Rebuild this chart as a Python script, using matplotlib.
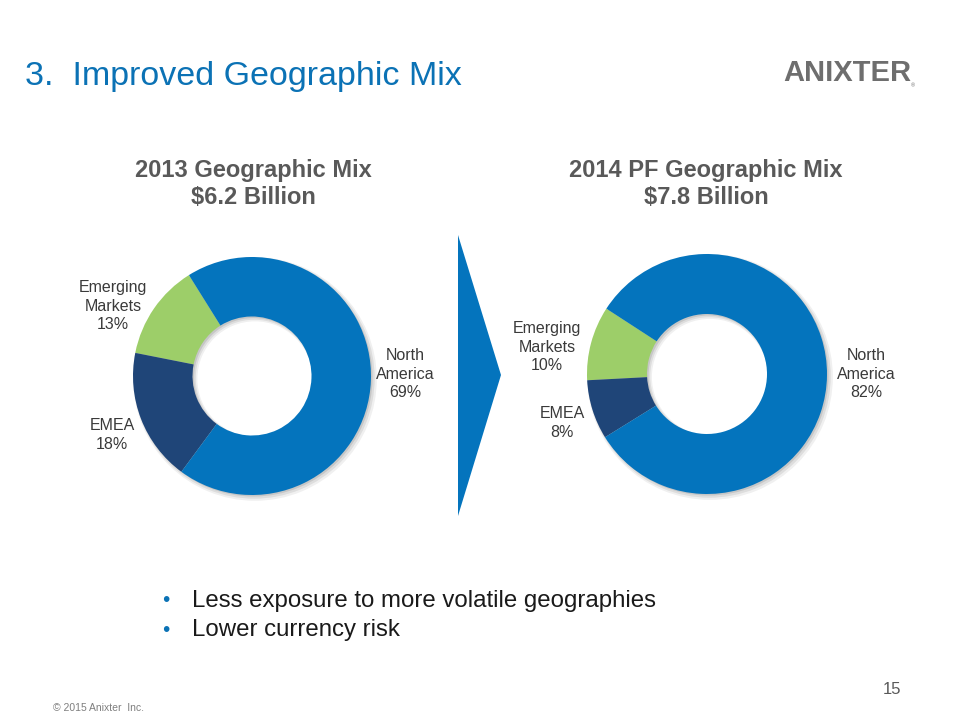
import matplotlib.pyplot as plt
from matplotlib.patches import Polygon

plt.rcParams['font.family'] = ['Liberation Sans', 'DejaVu Sans']

regions = ['Emerging\nMarkets', 'EMEA', 'North\nAmerica']
share_2013 = [13, 18, 69]
share_2014 = [10, 8, 82]
colors = ['#9DCE69', '#1F4578', '#0474BD']

W, H = 960, 720
fig = plt.figure(figsize=(9.6, 7.2), dpi=100)
fig.patch.set_facecolor('white')

blue = '#0B72B5'
gray_txt = '#595959'
lbl_txt = '#3A3A3A'


def px(x, y):
    # pixel coords (from top-left) -> figure fraction
    return x / W, 1 - y / H


def donut(cx, cy, r, values, start, label_pos):
    pad = 1.12
    side = 2 * r * pad
    ax = fig.add_axes([(cx - side / 2) / W, (H - cy - side / 2) / H, side / W, side / H])
    # soft shadow
    for k, a in enumerate([0.06, 0.08, 0.10]):
        off = 0.025 - k * 0.006
        ax.pie([1], radius=1.0 + 0.012 * (2 - k), center=(off, -off), colors=['#000000'],
               wedgeprops=dict(width=0.5 + 0.02 * (2 - k), alpha=a, linewidth=0))
    ax.pie(values, radius=1.0, startangle=start, counterclock=True, colors=colors,
           wedgeprops=dict(width=0.5, linewidth=0))
    ax.set_xlim(-pad, pad)
    ax.set_ylim(-pad, pad)
    ax.set_aspect('equal')
    ax.axis('off')
    for name, v, (lx, ly) in zip(regions, values, label_pos):
        fx, fy = px(lx, ly)
        fig.text(fx, fy, f'{name}\n{v}%', ha='center', va='center', fontsize=11.5,
                 color=lbl_txt, linespacing=1.3)


donut(252, 376, 119, share_2013, 122, [(113, 306), (112, 435), (405, 374)])
donut(707, 374, 120, share_2014, 147, [(547, 347), (562, 423), (866, 374)])

# chart titles
fig.text(*px(253, 184), '2013 Geographic Mix\n$6.2 Billion', ha='center', va='center',
         fontsize=17, fontweight='bold', color=gray_txt, linespacing=1.2)
fig.text(*px(706, 184), '2014 PF Geographic Mix\n$7.8 Billion', ha='center', va='center',
         fontsize=17, fontweight='bold', color=gray_txt, linespacing=1.2)

# arrow between the charts
arrow = Polygon([px(458, 235), px(501, 375), px(458, 516)], closed=True,
                transform=fig.transFigure, facecolor='#0474BD', edgecolor='none')
fig.patches.append(arrow)

# slide title
fig.text(*px(25, 76), '3.  Improved Geographic Mix', ha='left', va='center',
         fontsize=24.5, color=blue)

# logo
fig.text(*px(783, 73), 'ANIXTER', ha='left', va='center', fontsize=21,
         fontweight='bold', color='#6E6E6E')
fig.text(*px(911, 86), '®', ha='left', va='center', fontsize=4, color='#6E6E6E')

# bullets
bullets = ['Less exposure to more volatile geographies', 'Lower currency risk']
for i, b in enumerate(bullets):
    y = 601 + i * 29
    fig.text(*px(166, y), '•', ha='center', va='center', fontsize=15, color=blue)
    fig.text(*px(192, y), b, ha='left', va='center', fontsize=17.3, color='#1A1A1A')

# footer
fig.text(*px(901, 690), '15', ha='right', va='center', fontsize=12, color=gray_txt)
fig.text(*px(53, 708), '© 2015 Anixter  Inc.', ha='left', va='center', fontsize=7.5,
         color='#7F7F7F')

fig.savefig('out.png', dpi=100, facecolor='white')
